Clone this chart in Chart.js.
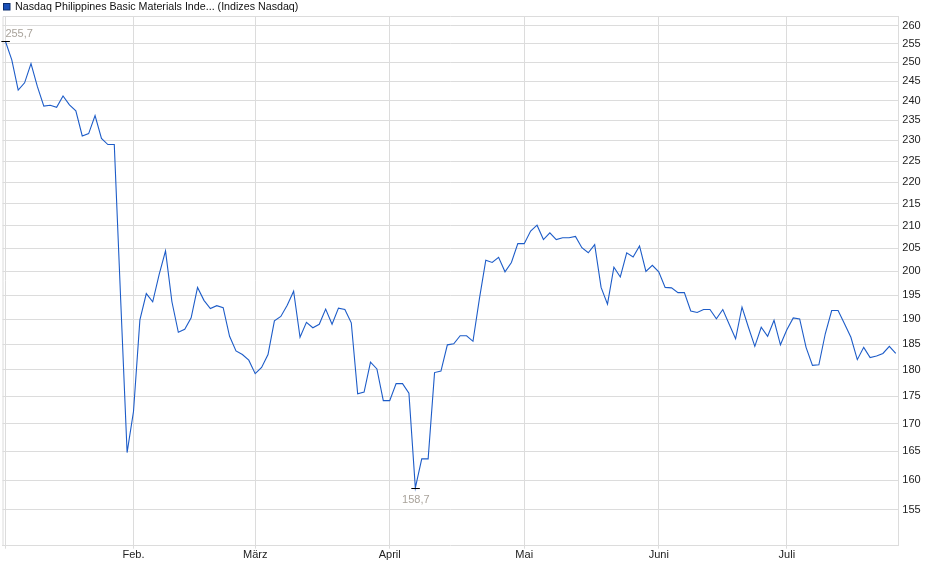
<!DOCTYPE html>
<html>
<head>
<meta charset="utf-8">
<script src="https://cdn.jsdelivr.net/npm/chart.js@4/dist/chart.umd.min.js"></script>
<style>
  html, body { margin: 0; padding: 0; background: #fff; }
  canvas { display: block; }
</style>
</head>
<body>
<canvas id="c" width="940" height="579"></canvas>
<script>
const seriesLabel = 'Nasdaq Philippines Basic Materials Inde... (Indizes Nasdaq)';

// daily closing values (trading days, January .. July)
const values = [
  255.7, 250.7, 242.7, 244.6, 249.7, 243.6, 238.6, 238.8, 238.3, 241.2,
  238.9, 237.4, 231.1, 231.7, 236.2, 230.5, 229.0, 229.0, 194.0, 164.8,
  172.2, 189.9, 195.3, 193.6, 199.3, 204.4, 193.6, 187.4, 188.0, 190.3,
  196.6, 193.9, 192.2, 192.8, 192.4, 186.6, 183.7, 183.0, 181.9, 179.3,
  180.5, 183.0, 189.7, 190.6, 192.9, 195.8, 186.4, 189.4, 188.3, 189.0,
  192.1, 189.0, 192.3, 192.0, 189.3, 175.5, 175.8, 181.5, 180.2, 174.2,
  174.2, 177.4, 177.4, 175.6, 158.7, 163.7, 163.7, 179.5, 179.8, 184.9,
  185.1, 186.7, 186.7, 185.6, 194.2, 202.4, 201.9, 203.0, 199.9, 201.9,
  206.0, 206.0, 208.8, 210.1, 206.9, 208.4, 206.9, 207.3, 207.3, 207.6,
  205.1, 204.0, 205.8, 196.6, 193.1, 200.9, 198.8, 204.0, 203.1, 205.5,
  200.0, 201.3, 199.9, 196.6, 196.5, 195.5, 195.5, 191.7, 191.4, 192.0,
  192.0, 190.1, 192.0, 189.0, 186.1, 192.5, 188.4, 184.6, 188.4, 186.6,
  189.8, 184.9, 187.9, 190.3, 190.1, 184.4, 180.9, 181.0, 187.1, 191.8,
  191.8, 189.1, 186.4, 182.0, 184.4, 182.4, 182.7, 183.2, 184.6, 183.2
];

// month tick labels and the index of the first trading day of each month
const monthNames  = ['', 'Feb.', 'März', 'April', 'Mai', 'Juni', 'Juli'];
const monthStarts = [0, 20, 39, 60, 81, 102, 122];

// right axis tick labels
const yTicks = [155, 160, 165, 170, 175, 180, 185, 190, 195, 200, 205, 210,
                215, 220, 225, 230, 235, 240, 245, 250, 255, 260];

const FONT = "'Liberation Sans', Arial, sans-serif";
const GRID = '#dcdcdc';

const fmt = v => v.toFixed(1).replace('.', ',');

const framePlugin = {
  id: 'frame',
  beforeDatasetsDraw(chart) {
    const a = chart.chartArea, ctx = chart.ctx;
    ctx.save();
    ctx.strokeStyle = GRID;
    ctx.lineWidth = 1;
    ctx.beginPath();
    ctx.moveTo(a.left + 0.5, a.bottom);
    ctx.lineTo(a.left + 0.5, a.top + 0.5);
    ctx.lineTo(a.right, a.top + 0.5);
    ctx.stroke();
    ctx.restore();
  }
};

const legendPlugin = {
  id: 'customLegend',
  afterDraw(chart) {
    const ctx = chart.ctx;
    const ds = chart.data.datasets[0];
    ctx.save();
    ctx.fillStyle = '#1a50b8';
    ctx.fillRect(3, 3, 7, 7);
    ctx.strokeStyle = '#0c2e6e';
    ctx.lineWidth = 1;
    ctx.strokeRect(3.5, 3.5, 6.5, 6.5);
    ctx.fillStyle = '#111';
    ctx.font = '10.7px ' + FONT;
    ctx.textBaseline = 'middle';
    ctx.textAlign = 'left';
    ctx.fillText(ds.label, 15, 7);
    ctx.restore();
  }
};

const extremesPlugin = {
  id: 'extremes',
  afterDatasetsDraw(chart) {
    const xs = chart.scales.x, ys = chart.scales.y, ctx = chart.ctx;
    let iMax = 0, iMin = 0;
    values.forEach((v, i) => {
      if (v > values[iMax]) iMax = i;
      if (v < values[iMin]) iMin = i;
    });
    ctx.save();
    ctx.font = '11px ' + FONT;
    ctx.textBaseline = 'middle';
    ctx.strokeStyle = '#000';
    ctx.lineWidth = 1;
    // max
    let px = xs.getPixelForValue(iMax), py = Math.round(ys.getPixelForValue(values[iMax])) + 0.5;
    ctx.beginPath(); ctx.moveTo(px - 4, py); ctx.lineTo(px + 4.5, py); ctx.stroke();
    ctx.fillStyle = '#a9a39b';
    ctx.textAlign = 'left';
    ctx.fillText(fmt(values[iMax]), px, py - 8);
    // min
    px = xs.getPixelForValue(iMin); py = Math.round(ys.getPixelForValue(values[iMin])) + 0.5;
    ctx.beginPath(); ctx.moveTo(px - 4, py); ctx.lineTo(px + 4.5, py); ctx.stroke();
    ctx.textAlign = 'center';
    ctx.fillText(fmt(values[iMin]), px + 0.5, py + 11);
    ctx.restore();
  }
};

new Chart(document.getElementById('c'), {
  type: 'line',
  data: {
    datasets: [{
      label: seriesLabel,
      data: values.map((v, i) => ({ x: i, y: v })),
      borderColor: '#1d5cc8',
      borderWidth: 1.1,
      pointRadius: 0,
      tension: 0,
      fill: false
    }]
  },
  options: {
    responsive: false,
    animation: false,
    layout: { padding: { top: 16, left: 2.5, right: 0, bottom: 0 } },
    plugins: { legend: { display: false }, tooltip: { enabled: false } },
    scales: {
      x: {
        type: 'linear',
        position: 'bottom',
        min: -0.45,
        max: 139.4,
        afterBuildTicks: s => { s.ticks = monthStarts.map(v => ({ value: v })); },
        afterFit: s => { s.height = 33.3; },
        ticks: {
          autoSkip: false,
          maxRotation: 0,
          padding: 0,
          color: '#222',
          font: { size: 11, family: FONT },
          callback: v => monthNames[monthStarts.indexOf(v)] ?? ''
        },
        grid: { color: GRID, lineWidth: 1, tickLength: 3 },
        border: { color: GRID }
      },
      y: {
        type: 'logarithmic',
        position: 'right',
        min: 149.2,
        max: 262.7,
        afterBuildTicks: s => { s.ticks = yTicks.map(v => ({ value: v })); },
        afterFit: s => { s.width = 41.7; },
        ticks: {
          padding: 4,
          color: '#222',
          font: { size: 11, family: FONT },
          callback: v => String(v)
        },
        grid: { color: GRID, lineWidth: 1, drawTicks: false },
        border: { color: GRID }
      }
    }
  },
  plugins: [framePlugin, legendPlugin, extremesPlugin]
});
</script>
</body>
</html>
